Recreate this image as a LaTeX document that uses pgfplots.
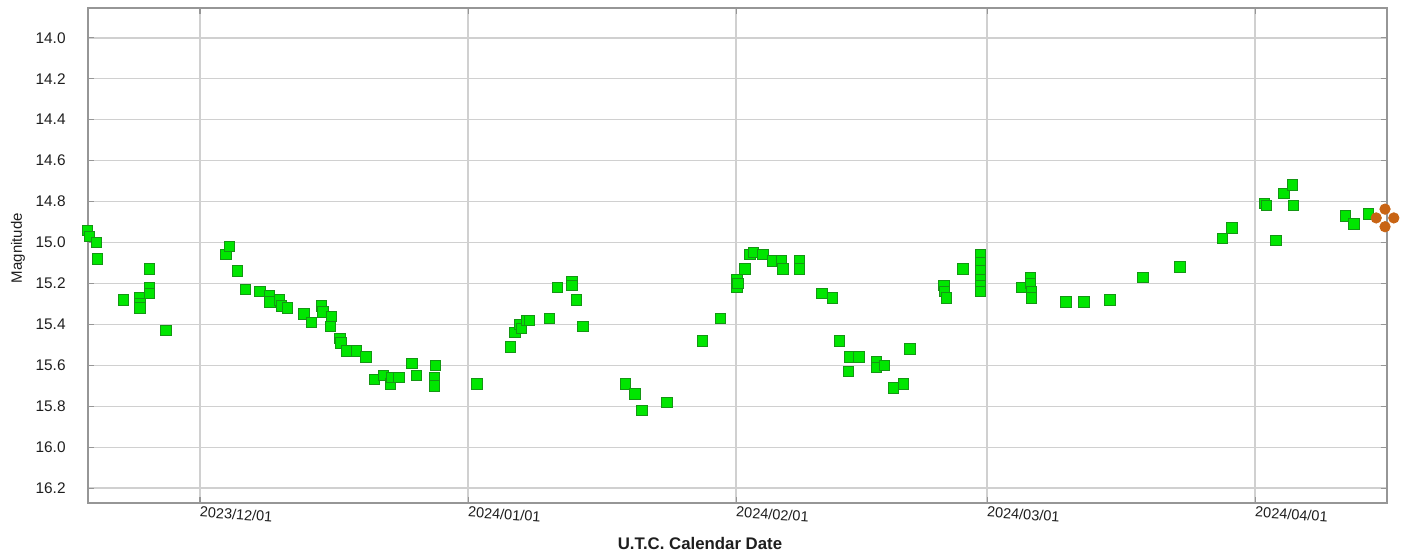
\documentclass[border=0pt]{standalone}
\usepackage{pgfplots}
\pgfplotsset{compat=1.18}
\usepackage{fontspec}
\setmainfont{Liberation Sans}
\definecolor{gfill}{RGB}{0,230,0}
\definecolor{gdraw}{RGB}{20,150,20}
\definecolor{orng}{RGB}{200,100,20}
\definecolor{gridc}{RGB}{208,208,208}
\definecolor{framec}{RGB}{150,150,150}
\definecolor{txt}{RGB}{30,30,30}
\begin{document}
\begin{tikzpicture}
\path[use as bounding box] (-44pt,-25pt) rectangle (659.5pt,251.5pt);
\begin{axis}[
  at={(0,0)}, anchor=south west,
  scale only axis, width=649.5pt, height=247.5pt,
  xmin=-12.95, xmax=137.23,
  ymin=13.855, ymax=16.272, y dir=reverse,
  clip=false,
  xtick={0,31,62,91,122},
  xticklabels={2023/12/01,2024/01/01,2024/02/01,2024/03/01,2024/04/01},
  ytick={14.0,14.2,14.4,14.6,14.8,15.0,15.2,15.4,15.6,15.8,16.0,16.2},
  /pgf/number format/fixed,
  /pgf/number format/fixed zerofill,
  /pgf/number format/precision=1,
  /pgf/number format/assume math mode=true,
  yticklabel style={anchor=east, inner sep=0pt, xshift=-11pt, font=\fontsize{7.7}{9}\selectfont, text=txt},
  xticklabel style={anchor=north west, inner sep=0pt, yshift=-1.5pt, rotate=-4, font=\fontsize{7.25}{8}\selectfont, text=txt},
  grid=major,
  major grid style={draw=gridc, line width=0.8pt},
  axis line style={draw=framec, line width=1pt},
  tick style={draw=framec, line width=0.6pt},
  tick align=inside, major tick length=3pt,
  xlabel={\textbf{U.T.C. Calendar Date}},
  xlabel style={at={(axis description cs:0.4711,0)}, anchor=center, yshift=-20pt, font=\fontsize{8.4}{10}\selectfont, text=txt},
  ylabel={Magnitude},
  ylabel style={at={(axis description cs:0,0.515)}, anchor=center, yshift=35pt, font=\fontsize{7.5}{9}\selectfont, text=txt},
]
\addplot[only marks, mark=square*, mark size=2.6pt, mark options={fill=gfill, draw=gdraw, line width=0.5pt}] table {
x y
-13.0 14.94
-12.8 14.97
-11.95 15.00
-11.87 15.08
-8.87 15.28
-6.94 15.27
-6.94 15.30
-6.94 15.32
-5.86 15.13
-5.86 15.22
-5.86 15.25
-3.93 15.43
3.0 15.06
3.39 15.02
4.31 15.14
5.24 15.23
6.94 15.24
8.0 15.26
8.1 15.29
9.17 15.28
9.45 15.31
10.1 15.32
12.0 15.35
12.9 15.39
14.07 15.31
14.2 15.34
15.2 15.36
15.1 15.41
16.2 15.47
16.3 15.49
16.96 15.53
18.1 15.53
19.2 15.56
20.2 15.67
21.2 15.65
22.0 15.69
22.2 15.66
23.0 15.66
24.5 15.59
25.0 15.65
27.2 15.60
27.1 15.66
27.1 15.70
32.0 15.69
35.9 15.51
36.4 15.44
37.0 15.40
37.2 15.42
37.8 15.38
38.1 15.38
40.4 15.37
41.3 15.22
43.0 15.19
43.0 15.21
43.5 15.28
44.3 15.41
49.2 15.69
50.3 15.74
51.1 15.82
54.0 15.78
58.1 15.48
60.2 15.37
62.1 15.22
62.1 15.18
62.2 15.20
63.0 15.13
63.6 15.06
64.0 15.05
65.1 15.06
66.2 15.09
67.2 15.09
67.4 15.13
69.3 15.09
69.3 15.13
71.9 15.25
73.1 15.27
73.9 15.48
75.1 15.56
76.2 15.56
74.95 15.63
78.2 15.58
78.2 15.61
79.1 15.60
80.2 15.71
81.3 15.69
82.1 15.52
86.0 15.21
86.1 15.24
86.3 15.27
88.2 15.13
90.2 15.06
90.2 15.10
90.2 15.14
90.2 15.18
90.2 15.21
90.2 15.24
95.0 15.22
96.0 15.17
96.0 15.20
96.1 15.24
96.1 15.27
100.1 15.29
102.2 15.29
105.2 15.28
109.0 15.17
113.3 15.12
118.2 14.98
119.3 14.93
123.1 14.81
123.3 14.82
124.4 14.99
125.3 14.76
126.3 14.72
126.4 14.82
132.4 14.87
133.4 14.91
135.1 14.86
};
\addplot[only marks, mark=*, mark size=2.6pt, color=orng, mark options={xshift=4.4pt}] coordinates {(137.0,14.88)};
\addplot[only marks, mark=*, mark size=2.6pt, color=orng, mark options={xshift=-4.4pt}] coordinates {(137.0,14.88)};
\addplot[only marks, mark=*, mark size=2.6pt, color=orng, mark options={yshift=4.4pt}] coordinates {(137.0,14.88)};
\addplot[only marks, mark=*, mark size=2.6pt, color=orng, mark options={yshift=-4.4pt}] coordinates {(137.0,14.88)};
\end{axis}
\end{tikzpicture}
\end{document}
